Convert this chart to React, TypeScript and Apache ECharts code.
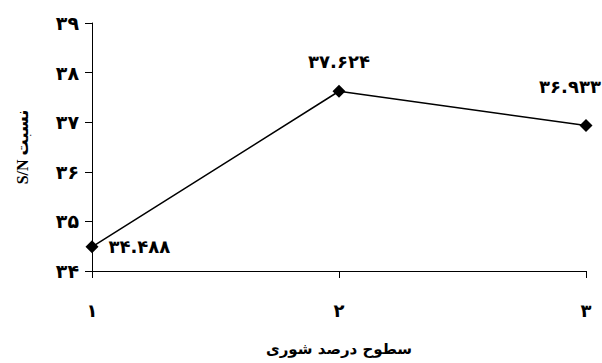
import React, { useEffect, useRef } from "react";
import * as echarts from "echarts";

const categories = ["۱", "۲", "۳"];
const snValues = [34.488, 37.624, 36.933];
const yMin = 34;
const yMax = 39;
const xTitle = "سطوح درصد شوری";
const yTitle = "S/N نسبت";

const fa = (s: string) => s.replace(/[0-9]/g, (d) => "۰۱۲۳۴۵۶۷۸۹"[+d]);

const FONT = "'DejaVu Sans', 'Noto Sans', sans-serif";
const SERIF = "'Liberation Serif', 'DejaVu Sans', serif";

export default function App() {
  const ref = useRef<HTMLDivElement>(null);
  useEffect(() => {
    if (!ref.current) return;
    const chart = echarts.init(ref.current, null, { renderer: "svg" });
    chart.setOption({
      animation: false,
      backgroundColor: "#ffffff",
      grid: { left: 92, right: 16, top: 23, bottom: 92, containLabel: false },
      xAxis: {
        type: "category",
        data: categories,
        boundaryGap: false,
        axisLine: { lineStyle: { color: "#000", width: 1 } },
        axisTick: { show: true, length: 7, inside: false, lineStyle: { color: "#000" } },
        axisLabel: { color: "#000", fontSize: 18, fontWeight: "bold", fontFamily: FONT, margin: 30 },
        name: xTitle,
        nameLocation: "middle",
        nameGap: 70,
        nameTextStyle: { color: "#000", fontSize: 15, fontWeight: "bold", fontFamily: FONT },
        splitLine: { show: false },
      },
      yAxis: {
        type: "value",
        min: yMin,
        max: yMax,
        interval: 1,
        axisLine: { show: true, lineStyle: { color: "#000", width: 1 } },
        axisTick: { show: true, length: 7, lineStyle: { color: "#000" } },
        axisLabel: {
          color: "#000",
          fontSize: 19,
          fontWeight: "bold",
          fontFamily: FONT,
          margin: 13,
          formatter: (v: number) => fa(String(v)),
        },
        splitLine: { show: false },
        name: yTitle,
        nameLocation: "middle",
        nameGap: 62,
        nameRotate: 90,
        nameTextStyle: { color: "#000", fontSize: 16, fontWeight: "bold", fontFamily: SERIF },
      },
      series: [
        {
          type: "line",
          data: snValues.map((v, i) => ({
            value: v,
            label: {
              show: true,
              position: i === 0 ? "right" : "top",
              distance: i === 0 ? 10 : 14,
              offset: i === 2 ? [-16, -10] : [0, 0],
              formatter: () => fa(v.toFixed(3)),
              color: "#000",
              fontSize: 18,
              fontWeight: "bold",
              fontFamily: FONT,
            },
          })),
          symbol: "diamond",
          symbolSize: 13,
          itemStyle: { color: "#000" },
          lineStyle: { color: "#000", width: 1.5 },
        },
      ],
    });
    return () => chart.dispose();
  }, []);
  return <div ref={ref} style={{ width: 602, height: 363, position: "absolute", left: 0, top: 0 }} />;
}
